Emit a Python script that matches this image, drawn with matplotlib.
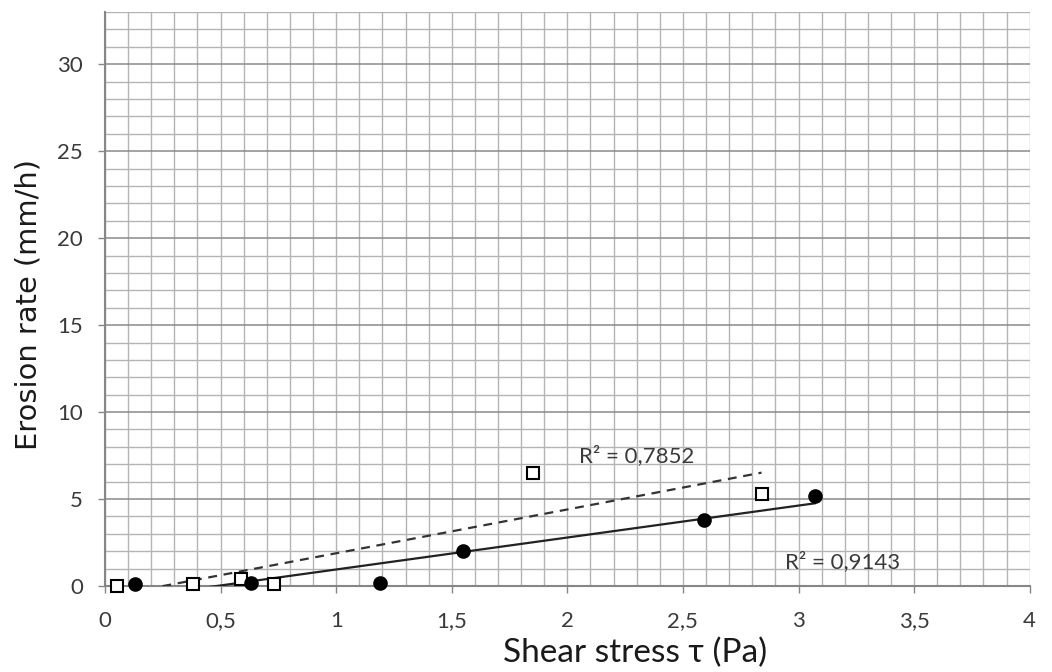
import numpy as np
import matplotlib
matplotlib.use("Agg")
import matplotlib.pyplot as plt
from matplotlib.ticker import MultipleLocator, FuncFormatter

plt.rcParams['font.family'] = ['Lato', 'DejaVu Sans']

# Open squares series
sq_x = [0.05, 0.38, 0.59, 0.73, 1.85, 2.84]
sq_y = [0.0, 0.1, 0.4, 0.1, 6.5, 5.3]
# Filled circles series
ci_x = [0.13, 0.63, 1.19, 1.55, 2.59, 3.07]
ci_y = [0.1, 0.2, 0.2, 2.0, 3.8, 5.2]

r2_labels = ["R² = 0,7852", "R² = 0,9143"]
x_ticks = [0, 0.5, 1, 1.5, 2, 2.5, 3, 3.5, 4]
y_ticks = [0, 5, 10, 15, 20, 25, 30]

fig = plt.figure(figsize=(10.52, 6.72), dpi=100)
ax = fig.add_axes([0.0998, 0.128, 0.879, 0.854])

ax.set_xlim(0, 4)
ax.set_ylim(0, 33)

# grid
ax.xaxis.set_minor_locator(MultipleLocator(0.1))
ax.yaxis.set_minor_locator(MultipleLocator(1))
ax.grid(which='minor', color='#b4b4b4', lw=1.0)
ax.grid(which='major', axis='x', color='#b4b4b4', lw=1.0)
ax.grid(which='major', axis='y', color='#8a8a8a', lw=1.1)
ax.set_axisbelow(True)

ax.set_xticks(x_ticks)
ax.set_yticks(y_ticks)
fmt = FuncFormatter(lambda v, p: (f"{v:g}").replace('.', ','))
ax.xaxis.set_major_formatter(fmt)
ax.yaxis.set_major_formatter(fmt)
ax.tick_params(axis='x', which='major', length=5, width=1.0, color='#868686',
               labelsize=16, labelcolor='#3a3a3a', pad=13)
ax.tick_params(axis='y', which='major', length=5, width=1.0, color='#868686',
               labelsize=16, labelcolor='#3a3a3a', pad=11)
ax.tick_params(which='minor', length=0)

for s in ['top', 'right']:
    ax.spines[s].set_visible(False)
for s in ['left', 'bottom']:
    ax.spines[s].set_color('#868686')
    ax.spines[s].set_linewidth(1.5)

# linear trendlines over each series' x-range
def trend(xs, ys):
    k, b = np.polyfit(xs, ys, 1)
    xx = np.array([min(xs), max(xs)])
    return xx, k * xx + b

tx, ty = trend(sq_x, sq_y)
ax.plot(tx, ty, color='#333333', lw=1.6, ls=(0, (4, 3)), zorder=3)
tx, ty = trend(ci_x, ci_y)
ax.plot(tx, ty, color='#222222', lw=1.6, zorder=3)

ax.plot(sq_x, sq_y, ls='none', marker='s', ms=9, mfc='white', mec='black',
        mew=1.5, zorder=5, clip_on=False)
ax.plot(ci_x, ci_y, ls='none', marker='o', ms=9.5, mfc='black', mec='black',
        zorder=5, clip_on=False)

ax.text(2.05, 7.5, r2_labels[0], fontsize=16, color='#3a3a3a', va='center')
ax.text(2.94, 1.4, r2_labels[1], fontsize=16, color='#3a3a3a', va='center')

ax.set_xlabel("Shear stress τ (Pa)", fontsize=24, color='#1a1a1a')
ax.xaxis.set_label_coords(0.573, -0.09)
ax.set_ylabel("Erosion rate (mm/h)", fontsize=20.8, color='#1a1a1a',
              family=['DejaVu Sans'])
ax.yaxis.set_label_coords(-0.068, 0.49)

fig.savefig("out.png", dpi=100)
